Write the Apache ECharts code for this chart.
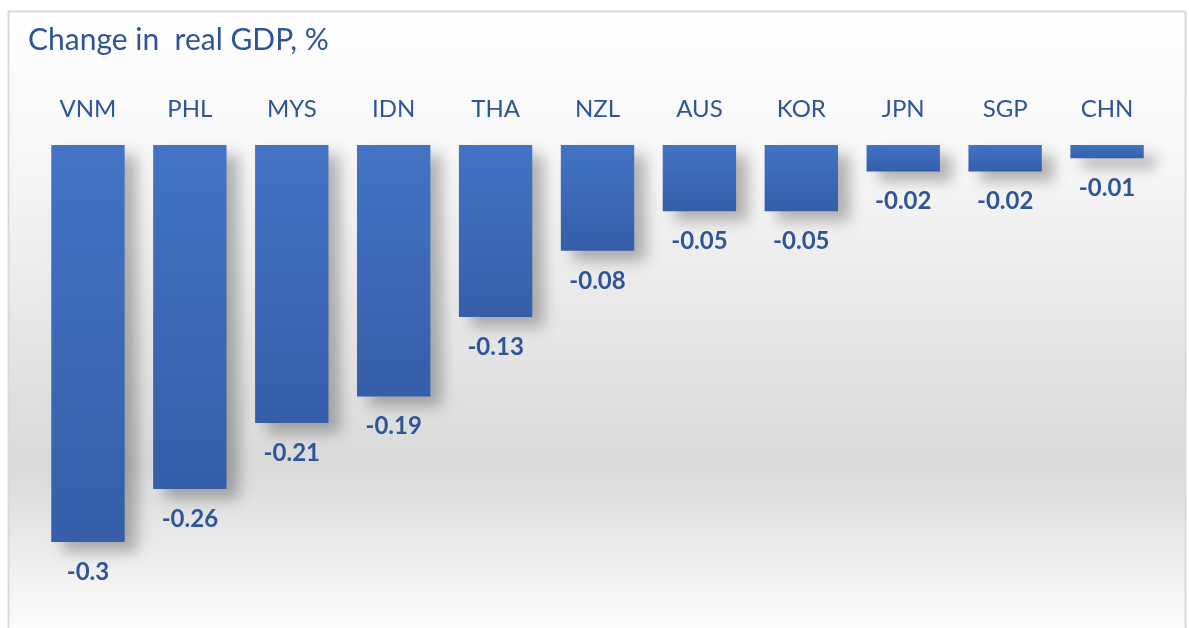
<!DOCTYPE html>
<html>
<head>
<meta charset="utf-8">
<script src="https://cdn.jsdelivr.net/npm/echarts@6/dist/echarts.min.js"></script>
<style>
  html, body { margin: 0; padding: 0; background: #fff; }
  #chart { width: 1189px; height: 628px; }
</style>
</head>
<body>
<div id="chart"></div>
<script>
// country codes, as on the top axis
var countries = ['VNM', 'PHL', 'MYS', 'IDN', 'THA', 'NZL', 'AUS', 'KOR', 'JPN', 'SGP', 'CHN']
// change in real GDP, %
var gdpChange = [-0.3, -0.26, -0.21, -0.19, -0.13, -0.08, -0.05, -0.05, -0.02, -0.02, -0.01]

var textColor = '#2f5597'
var font = 'Lato, "Open Sans", sans-serif'

var chart = echarts.init(document.getElementById('chart'))

chart.setOption({
  animation: false,
  graphic: [
    {
      type: 'rect',
      z: -10,
      silent: true,
      shape: { x: 8.5, y: 11.5, width: 1177, height: 630 },
      style: {
        stroke: '#d9d9d9',
        lineWidth: 2,
        fill: new echarts.graphic.LinearGradient(0, 0, 0, 1, [
          { offset: 0, color: '#ffffff' },
          { offset: 0.25, color: '#f6f6f6' },
          { offset: 0.72, color: '#d9d9d9' },
          { offset: 0.97, color: '#fbfbfb' },
          { offset: 1, color: '#ffffff' }
        ])
      }
    }
  ],
  title: {
    text: 'Change in  real GDP, %',
    left: 23,
    top: 20,
    textStyle: {
      color: textColor,
      fontFamily: font,
      fontWeight: 'normal',
      fontSize: 30
    }
  },
  grid: {
    left: 37,
    right: 31,
    top: 145,
    bottom: 86
  },
  xAxis: {
    type: 'category',
    position: 'top',
    data: countries,
    axisLine: { show: false },
    axisTick: { show: false },
    axisLabel: {
      margin: 24,
      color: textColor,
      fontFamily: font,
      fontSize: 24
    }
  },
  yAxis: {
    type: 'value',
    min: -0.3,
    max: 0,
    show: false,
    splitLine: { show: false }
  },
  series: [
    {
      type: 'bar',
      data: gdpChange,
      barCategoryGap: '28%',
      itemStyle: {
        color: new echarts.graphic.LinearGradient(0, 0, 0, 1, [
          { offset: 0, color: '#4473c5' },
          { offset: 1, color: '#345ea8' }
        ]),
        shadowColor: 'rgba(0,0,0,0.28)',
        shadowBlur: 14,
        shadowOffsetX: 12,
        shadowOffsetY: 10
      },
      label: {
        show: true,
        position: 'bottom',
        distance: 18,
        color: textColor,
        fontFamily: font,
        fontWeight: 'bold',
        fontSize: 24,
        formatter: function (p) {
          return String(p.value)
        }
      }
    }
  ]
})
</script>
</body>
</html>
